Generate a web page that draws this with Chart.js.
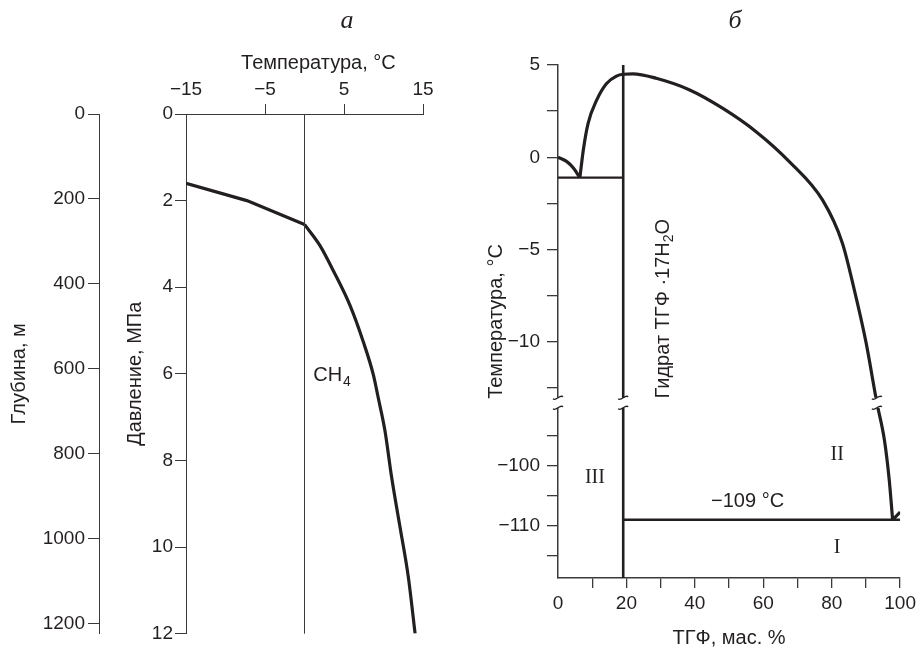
<!DOCTYPE html>
<html>
<head>
<meta charset="utf-8">
<script src="https://cdn.jsdelivr.net/npm/chart.js@4.4.1/dist/chart.umd.min.js"></script>
<style>
  html, body { margin: 0; padding: 0; background: #fff; }
  #wrap { position: relative; width: 920px; height: 648px; }
  canvas { position: absolute; top: 0; }
  #chart-a { left: 0; }
  #chart-b { left: 470px; }
</style>
</head>
<body>
<div id="wrap">
  <canvas id="chart-a" width="470" height="648"></canvas>
  <canvas id="chart-b" width="450" height="648"></canvas>
</div>
<script>
// panel a - CH4 hydrate curve
const coldT = [-15, -7.3, 0];
const coldP = [1.6, 2.0, 2.55];
const warmT = [0, 1.96, 3.65, 5.76, 7.44, 8.71, 9.34, 10.19, 11.03, 12.09, 13.14, 14.0];
const warmP = [2.55, 3.04, 3.62, 4.42, 5.26, 6.02, 6.56, 7.32, 8.39, 9.54, 10.69, 12.0];
const zeroT = [0, 0];
const zeroP = [0, 12];
const tempTicksA = [-15, -5, 5, 15];
const pressTicks = [0, 2, 4, 6, 8, 10, 12];
const depthTicks = [0, 200, 400, 600, 800, 1000, 1200];

// panel b - THF / water phase diagram
const iceX = [0, 2.5, 4.5, 6.4];
const iceT = [0, -0.22, -0.58, -1.1];
const liqX = [6.4, 7.4, 8.8, 11.3, 14.2, 17.1, 19, 21.9, 28.7, 38.5, 48.2, 57.9, 67.6, 77.3, 83.1, 86.6, 90.0, 93.2, 95.4, 96.8, 97.8];
const liqT = [-1.1, 0.4, 1.84, 3.1, 4.0, 4.4, 4.5, 4.52, 4.28, 3.65, 2.65, 1.39, -0.23, -2.31, -4.64, -7.18, -10.0, -13.3, -95.7, -102.3, -109];
const thfX = [97.8, 100];
const thfT = [-109, -107.7];
const eut1X = [0, 19.06];
const eut1T = [-1.1, -1.1];
const eut2X = [19.06, 100];
const eut2T = [-109, -109];
const hydX = [19.06, 19.06];
const hydT = [5, -119];
const tgfTicks = [0, 10, 20, 30, 40, 50, 60, 70, 80, 90, 100];
const tempTicksB = [5, 2.5, 0, -2.5, -5, -7.5, -10, -12.5, -95, -100, -105, -110, -115];
const tempLabelsB = [5, 0, -5, -10, -100, -110];
const breakXs = [0, 19.06, 93.2];

// broken temperature axis
const BREAK_HI = -13.3, BREAK_LO = -89.5, K = 0.325;
function ty(t) {
    if (t >= BREAK_HI) return t;
    if (t <= BREAK_LO) return BREAK_HI + (t - BREAK_LO) * K;
    return BREAK_HI;
}

const INK = '#231f20';
const AXIS = '#3a3a3a';
const SANS = 'Liberation Sans';
const tickFont = { family: SANS, size: 19 };
const titleFont = { family: SANS, size: 20 };
const minus = v => String(v).replace('-', '\u2212');

function zip(xs, ys, f) {
    return xs.map((x, i) => ({ x: x, y: f ? f(ys[i]) : ys[i] }));
}

// ---------- chart a ----------
const labelsA = {
    id: 'labelsA',
    afterDraw(chart) {
        const ctx = chart.ctx;
        const x = chart.scales.x, y = chart.scales.y;
        ctx.save();
        ctx.fillStyle = INK;
        ctx.font = 'italic 26px "Liberation Serif"';
        ctx.textAlign = 'center';
        ctx.textBaseline = 'middle';
        ctx.fillText('a', 347, 21);

        ctx.font = '20px "' + SANS + '"';
        ctx.textAlign = 'left';
        ctx.textBaseline = 'alphabetic';
        const px = x.getPixelForValue(1.1), py = y.getPixelForValue(6.0) + 7;
        ctx.fillText('CH', px, py);
        const w = ctx.measureText('CH').width;
        ctx.font = '14px "' + SANS + '"';
        ctx.fillText('4', px + w + 1, py + 5);
        ctx.restore();
    }
};

const dataA = {
    datasets: [
        { data: zip(zeroT, zeroP), borderColor: AXIS, borderWidth: 1, pointRadius: 0 },
        { data: zip(coldT, coldP), borderColor: INK, borderWidth: 3.2, pointRadius: 0, tension: 0 },
        { data: zip(warmT, warmP), borderColor: INK, borderWidth: 3.2, pointRadius: 0, cubicInterpolationMode: 'monotone' }
    ]
};

const chartA = new Chart(document.getElementById('chart-a'), {
    type: 'line',
    data: dataA,
    options: {
        responsive: false,
        animation: false,
        layout: { padding: { top: 0, right: 47, bottom: 11, left: 0 } },
        plugins: { legend: { display: false }, tooltip: { enabled: false } },
        scales: {
            x: {
                type: 'linear', position: 'top', min: -15, max: 15,
                afterBuildTicks: s => { s.ticks = tempTicksA.map(v => ({ value: v })); },
                afterFit: s => { s.height = 114; },
                ticks: { font: tickFont, color: INK, padding: 3, maxRotation: 0, autoSkip: false, callback: v => minus(v) },
                grid: { drawOnChartArea: false, tickLength: 10, color: c => (c.tick && c.tick.value === -15) ? 'rgba(0,0,0,0)' : AXIS },
                border: { color: AXIS, width: 1 },
                title: { display: true, text: '     Температура, °С', font: titleFont, color: INK, padding: { top: 51, bottom: 0 } }
            },
            y: {
                type: 'linear', position: 'left', reverse: true, min: 0, max: 12, weight: 0,
                afterBuildTicks: s => { s.ticks = pressTicks.map(v => ({ value: v })); },
                afterFit: s => { s.width = 87; },
                ticks: { font: tickFont, color: INK, padding: 2, autoSkip: false, callback: v => String(v) },
                grid: { drawOnChartArea: false, tickLength: 11, color: AXIS },
                border: { color: AXIS, width: 1 },
                title: { display: true, text: 'Давление, МПа', font: titleFont, color: INK, padding: { top: 24, bottom: 0 } }
            },
            yD: {
                type: 'linear', position: 'left', reverse: true, min: 0, max: 1223, weight: 1,
                afterBuildTicks: s => { s.ticks = depthTicks.map(v => ({ value: v })); },
                afterFit: s => { s.width = 99; },
                ticks: { font: tickFont, color: INK, padding: 3, autoSkip: false, callback: v => String(v) },
                grid: { drawOnChartArea: false, tickLength: 11, color: AXIS },
                border: { color: AXIS, width: 1 },
                title: { display: true, text: 'Глубина, м', font: titleFont, color: INK, padding: { top: 7, bottom: 0 } }
            }
        }
    },
    plugins: [labelsA]
});

// ---------- chart b ----------
function squiggle(ctx, x, y) {
    ctx.beginPath();
    ctx.moveTo(x - 5, y + 1);
    ctx.bezierCurveTo(x - 2, y + 4, x + 2, y - 4, x + 5, y - 1);
    ctx.stroke();
}

const labelsB = {
    id: 'labelsB',
    afterDraw(chart) {
        const ctx = chart.ctx;
        const x = chart.scales.x, y = chart.scales.y;
        ctx.save();
        // axis breaks
        const yb = y.getPixelForValue(BREAK_HI);
        ctx.strokeStyle = INK;
        ctx.lineWidth = 1.3;
        breakXs.forEach(v => {
            const xb = x.getPixelForValue(v);
            ctx.fillStyle = '#fff';
            ctx.fillRect(xb - 7, yb - 5, 14, 10);
            squiggle(ctx, xb, yb - 5);
            squiggle(ctx, xb, yb + 5);
        });

        ctx.fillStyle = INK;
        ctx.font = 'italic 26px "Liberation Serif"';
        ctx.textAlign = 'center';
        ctx.textBaseline = 'middle';
        ctx.fillText('б', 265, 21);

        ctx.font = '20px "Liberation Serif"';
        ctx.fillText('III', x.getPixelForValue(10.8), y.getPixelForValue(ty(-102)));
        ctx.fillText('II', x.getPixelForValue(81.6), y.getPixelForValue(ty(-98.2)));
        ctx.fillText('I', x.getPixelForValue(81.6), y.getPixelForValue(ty(-113.6)));

        ctx.font = '20px "' + SANS + '"';
        ctx.fillText('\u2212109 °С', x.getPixelForValue(55.4), y.getPixelForValue(ty(-106)));

        // rotated hydrate label
        const parts = [['Гидрат ТГФ ·17H', 20, 0], ['2', 14, 5], ['O', 20, 0]];
        let total = 0;
        parts.forEach(p => { ctx.font = p[1] + 'px "' + SANS + '"'; p.push(ctx.measureText(p[0]).width); total += p[3]; });
        ctx.translate(x.getPixelForValue(30.9), y.getPixelForValue(-8.2));
        ctx.rotate(-Math.PI / 2);
        ctx.textAlign = 'left';
        let cx = -total / 2;
        parts.forEach(p => {
            ctx.font = p[1] + 'px "' + SANS + '"';
            ctx.fillText(p[0], cx, p[2]);
            cx += p[3];
        });
        ctx.restore();
    }
};

const line = (xs, ts, w, extra) => Object.assign({
    data: zip(xs, ts, ty), borderColor: INK, borderWidth: w, pointRadius: 0, tension: 0
}, extra || {});

const dataB = {
    datasets: [
        line(eut1X, eut1T, 2.2),
        line(hydX, hydT, 2.6),
        line(eut2X, eut2T, 2.6),
        line(iceX, iceT, 3.2, { cubicInterpolationMode: 'monotone' }),
        line(liqX, liqT, 3.2, { cubicInterpolationMode: 'monotone' }),
        line(thfX, thfT, 3.2)
    ]
};

const chartB = new Chart(document.getElementById('chart-b'), {
    type: 'line',
    data: dataB,
    options: {
        responsive: false,
        animation: false,
        layout: { padding: { top: 65, right: 19, bottom: 0, left: 0 } },
        plugins: { legend: { display: false }, tooltip: { enabled: false } },
        scales: {
            x: {
                type: 'linear', position: 'bottom', min: 0, max: 100,
                afterBuildTicks: s => { s.ticks = tgfTicks.map(v => ({ value: v })); },
                afterFit: s => { s.height = 70; },
                ticks: { font: tickFont, color: INK, padding: 4, maxRotation: 0, autoSkip: false, callback: v => (v % 20 === 0 ? String(v) : '') },
                grid: { drawOnChartArea: false, tickLength: 10, color: c => (c.tick && c.tick.value === 0) ? 'rgba(0,0,0,0)' : AXIS, lineWidth: 1.3 },
                border: { color: AXIS, width: 1.5 },
                title: { display: true, text: 'ТГФ, мас. %', font: { family: SANS, size: 20, lineHeight: 1 }, color: INK, padding: 0 }
            },
            y: {
                type: 'linear', position: 'left', min: ty(-118.7), max: 5,
                afterBuildTicks: s => { s.ticks = tempTicksB.map(v => ({ value: ty(v) })); },
                afterFit: s => { s.width = 88; },
                ticks: {
                    font: tickFont, color: INK, padding: 7, autoSkip: false,
                    callback: (v, i) => tempLabelsB.includes(tempTicksB[i]) ? minus(tempTicksB[i]) : ''
                },
                grid: { drawOnChartArea: false, tickLength: 11, color: AXIS, lineWidth: 1.3 },
                border: { color: AXIS, width: 1.5 },
                title: { display: true, text: 'Температура, °С', font: titleFont, color: INK, padding: { top: 14, bottom: 0 } }
            }
        }
    },
    plugins: [labelsB]
});
</script>
</body>
</html>
